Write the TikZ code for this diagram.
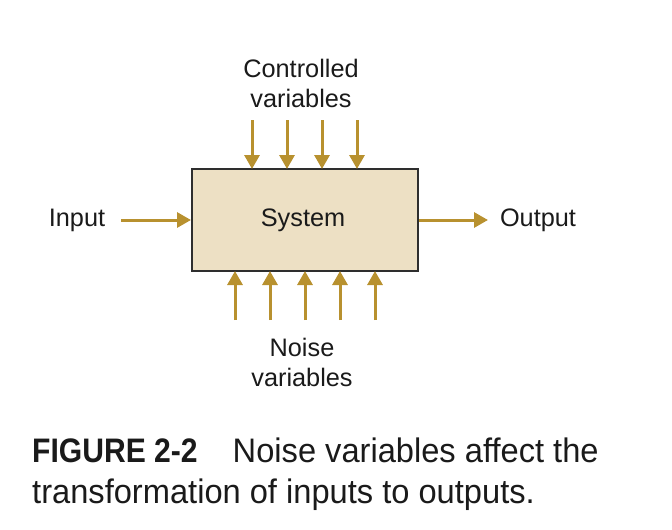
\documentclass[tikz,border=0pt]{standalone}
\usepackage{fontspec}
\setmainfont{Liberation Sans}
\newfontfamily\capfont[FakeStretch=0.96,BoldFeatures={FakeStretch=0.885}]{Liberation Sans}
\usetikzlibrary{arrows.meta}
\definecolor{gold}{HTML}{B8912F}
\definecolor{boxfill}{HTML}{EDE0C4}
\definecolor{boxline}{HTML}{2E2E2E}
\definecolor{txt}{HTML}{1A1A1A}
\tikzset{
  flow/.style={draw=gold, line width=3pt, -{Triangle[length=14pt,width=15pt]}},
  lbl/.style={text=txt, font=\fontsize{25.3}{30}\selectfont, align=center, inner sep=0pt},
  sysbox/.style={draw=boxline, fill=boxfill, line width=2pt, minimum width=226pt, minimum height=102pt, inner sep=0pt},
  caption/.style={text=txt, font=\capfont\fontsize{34}{40}\selectfont, anchor=base west, inner sep=0pt}
}
\begin{document}
\begin{tikzpicture}[x=1pt,y=-1pt]
\useasboundingbox (0,0) rectangle (672,530);
\node[sysbox] (sys) at (305,220) {};
\node[lbl] (systxt) at (303,220) {System};
\node[lbl] (in) at (77,220) {Input};
\node[lbl] (out) at (538,220) {Output};
\node[lbl] (ctrl) at (301,83) {Controlled\\variables};
\node[lbl] (noise) at (302,362) {Noise\\variables};
% input/output
\coordinate (inS) at (121,220);
\draw[flow] (inS) -- (sys.west);
\coordinate (outE) at (488,220);
\draw[flow] (sys.east) -- (outE);
% controlled arrows
\foreach \i/\x in {1/252,2/287,3/322,4/357}{
  \coordinate (c\i) at (\x,120);
  \coordinate (ct\i) at (\x,169);
  \draw[flow] (c\i) -- (ct\i);
}
% noise arrows
\foreach \i/\x in {1/235,2/270,3/305,4/340,5/375}{
  \coordinate (n\i) at (\x,320);
  \coordinate (nt\i) at (\x,271);
  \draw[flow] (n\i) -- (nt\i);
}
\node[caption] (cap1) at (32,462) {{\bfseries FIGURE 2-2}\hspace{35pt}Noise variables affect the};
\node[caption] (cap2) at (32,503) {transformation of inputs to outputs.};
\end{tikzpicture}
\end{document}
